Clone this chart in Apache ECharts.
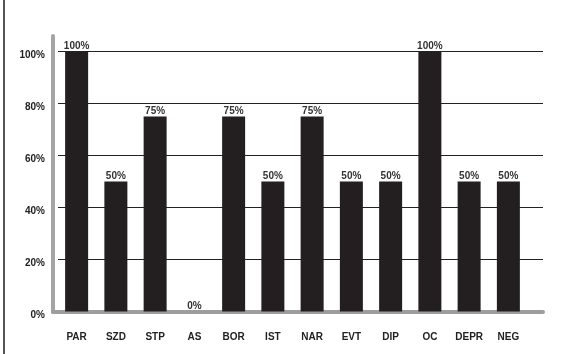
<!DOCTYPE html>
<html>
<head>
<meta charset="utf-8">
<script src="https://cdn.jsdelivr.net/npm/echarts@6/dist/echarts.min.js"></script>
<style>
  html, body { margin: 0; padding: 0; background: #fff; }
  #main { width: 572px; height: 354px; position: relative; }
  #edge { position: absolute; left: 3px; top: 0; width: 2px; height: 354px; background: #555; }
</style>
</head>
<body>
<div id="main"></div>
<div id="edge"></div>
<script>
// categories and percentages
var categories = ["PAR", "SZD", "STP", "AS", "BOR", "IST", "NAR", "EVT", "DIP", "OC", "DEPR", "NEG"];
var values = [100, 50, 75, 0, 75, 50, 75, 50, 50, 100, 50, 50];
var yTicks = [0, 20, 40, 60, 80, 100];

var myChart = echarts.init(document.getElementById("main"));
var font = "Liberation Sans, Arial, sans-serif";

var option = {
  animation: false,
  grid: [
    // back wall with the grid lines
    { left: 58, right: 29, top: 51.5, bottom: 42.5 },
    // bars
    { left: 57, right: 44, top: 51.5, bottom: 42.5 },
    // wall + floor decoration
    { left: 53, right: 29, top: 36, bottom: 42 }
  ],
  xAxis: [
    { gridIndex: 0, type: "value", min: 0, max: 1, show: false },
    {
      gridIndex: 1,
      type: "category",
      data: categories,
      axisLine: { show: false },
      axisTick: { show: false },
      axisLabel: {
        margin: 21,
        color: "#222",
        fontFamily: font,
        fontWeight: "bold",
        fontSize: 10
      }
    },
    {
      gridIndex: 2,
      type: "value",
      min: 0,
      max: 1,
      axisLine: { show: true, lineStyle: { color: "#9d9d9d", width: 4 } },
      axisTick: { show: false },
      axisLabel: { show: false },
      splitLine: { show: false }
    }
  ],
  yAxis: [
    {
      gridIndex: 0,
      type: "value",
      min: 0,
      max: 100,
      interval: 20,
      axisLine: { show: false },
      axisTick: { show: false },
      axisLabel: {
        margin: 13,
        color: "#222",
        fontFamily: font,
        fontWeight: "bold",
        fontSize: 10,
        verticalAlign: "top",
        lineHeight: 8,
        formatter: function (v) {
          return yTicks.indexOf(v) >= 0 ? v + "%" : "";
        }
      },
      splitLine: { lineStyle: { color: "#222", width: 1 } }
    },
    { gridIndex: 1, type: "value", min: 0, max: 100, show: false },
    {
      gridIndex: 2,
      type: "value",
      min: 0,
      max: 1,
      axisLine: { show: true, lineStyle: { color: "#a5a5a5", width: 4 } },
      axisTick: { show: false },
      axisLabel: { show: false },
      splitLine: { show: false }
    }
  ],
  series: [
    {
      type: "bar",
      xAxisIndex: 1,
      yAxisIndex: 1,
      data: values,
      barWidth: 23,
      itemStyle: { color: "#231f20" },
      label: {
        show: true,
        position: "top",
        distance: 0,
        color: "#333",
        fontFamily: font,
        fontWeight: "bold",
        fontSize: 10,
        formatter: "{c}%"
      }
    }
  ]
};
myChart.setOption(option);
</script>
</body>
</html>
